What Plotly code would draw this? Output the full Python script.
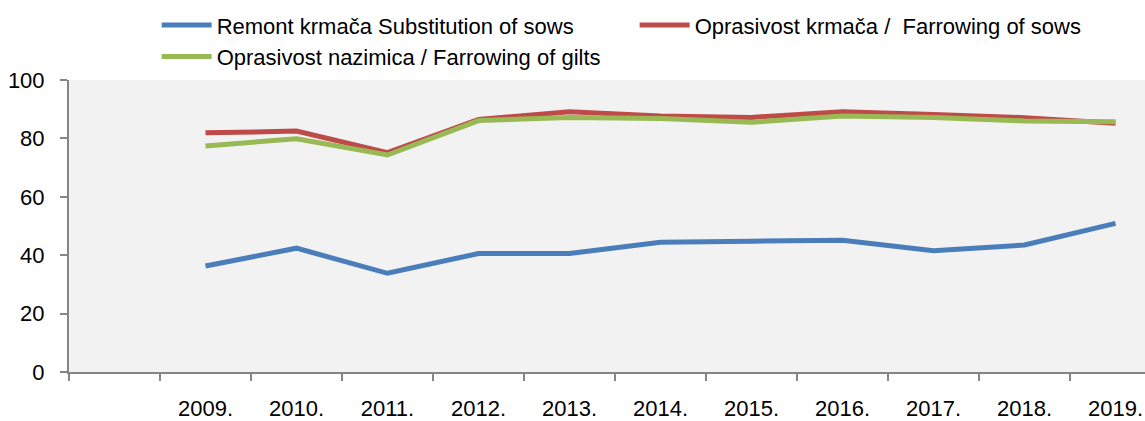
import plotly.graph_objects as go

years = ["2009.", "2010.", "2011.", "2012.", "2013.", "2014.", "2015.", "2016.", "2017.", "2018.", "2019."]
substitution = [36.3, 42.4, 33.8, 40.6, 40.6, 44.4, 44.8, 45.1, 41.5, 43.5, 50.9]
farrowing_sows = [81.9, 82.5, 75.1, 86.5, 89.1, 87.7, 87.2, 89.1, 88.2, 87.1, 85.2]
farrowing_gilts = [77.4, 79.9, 74.3, 86.1, 87.2, 86.8, 85.5, 87.7, 87.2, 86.0, 85.7]

names = ["Remont krmača Substitution of sows",
         "Oprasivost krmača /  Farrowing of sows",
         "Oprasivost nazimica / Farrowing of gilts"]
colors = ["#4a7ebb", "#be4b48", "#98b954"]

xpos = list(range(1, len(years) + 1))
FONT = "Liberation Sans Narrow, Arial Narrow, Liberation Sans, Arial, sans-serif"

fig = go.Figure()
for name, vals, col in zip(names, [substitution, farrowing_sows, farrowing_gilts], colors):
    fig.add_trace(go.Scatter(x=xpos, y=vals, mode="lines", name=name,
                             line=dict(color=col, width=5)))

fig.update_layout(
    width=1145, height=421,
    margin=dict(l=69, r=0, t=80, b=49, autoexpand=False),
    paper_bgcolor="white", plot_bgcolor="#f2f2f2",
    font=dict(family=FONT, size=22, color="black"),
    showlegend=True,
    legend=dict(orientation="h", xref="container", yref="container",
                x=0.1368, y=0.99, xanchor="left", yanchor="top",
                entrywidth=413, entrywidthmode="pixels", itemwidth=50,
                font=dict(size=22), bgcolor="rgba(0,0,0,0)"),
    xaxis=dict(range=[-0.5, 11.324], tickmode="array", tickvals=xpos, ticktext=years,
               ticks="", showgrid=False, zeroline=False, showline=True,
               linecolor="#868686", linewidth=2, ticklabelstandoff=16,
               ticklabeloverflow="allow", automargin=False,
               minor=dict(ticks="outside", tick0=0.5, dtick=1, ticklen=7,
                          tickcolor="#868686", tickwidth=2, showgrid=False)),
    yaxis=dict(range=[0, 100], tickvals=[0, 20, 40, 60, 80, 100], ticks="outside",
               ticklen=7, tickcolor="#868686", tickwidth=2, showgrid=False,
               zeroline=False, showline=True, linecolor="#868686", linewidth=2,
               ticklabelstandoff=11, automargin=False),
)

fig.write_html("out.html", config={"displayModeBar": False},
               post_script="document.body.style.margin='0';document.body.style.overflow='hidden';")
